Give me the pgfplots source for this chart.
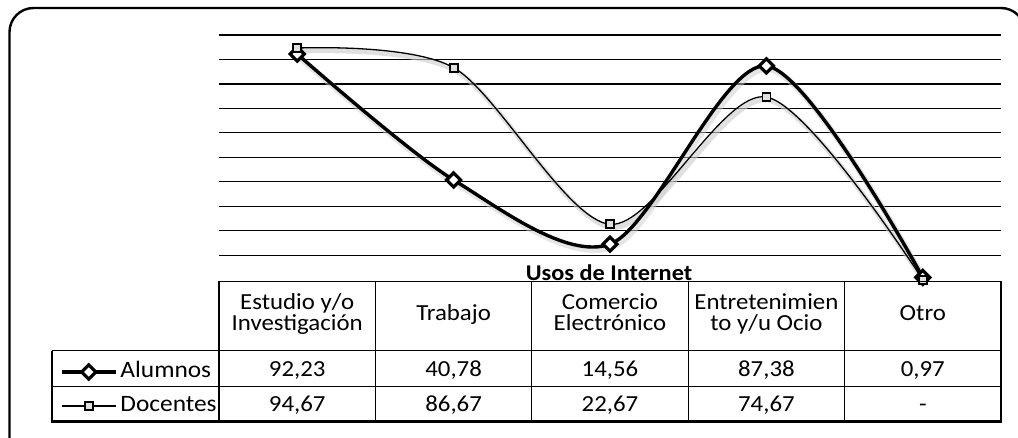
\documentclass[border=0pt]{standalone}
\usepackage{pgfplots}
\pgfplotsset{compat=1.18}
\usepackage{fontspec}
\setmainfont{Carlito}[FakeStretch=1.08]
\newcommand{\tf}{\fontsize{23}{20}\selectfont}
\begin{document}
\begin{tikzpicture}
\begin{scope}[x=1pt,y=1pt]
\useasboundingbox (0,0) rectangle (1018,-438);
\begin{scope}
\clip (0,0) rectangle (1018,-438);
\draw[line width=2.4pt, rounded corners=24pt] (9.5,-470) -- (9.5,-8) -- (1025,-8) -- (1025,-470);
\end{scope}
\end{scope}
\begin{axis}[
  at={(219pt,-279.8pt)}, anchor=south west,
  scale only axis, width=782pt, height=244.8pt,
  xmin=-0.5, xmax=4.5, ymin=0, ymax=100,
  axis line style={draw=none},
  xtick=\empty, ytick={10,20,...,100}, yticklabels={},
  major tick length=0pt,
  ymajorgrids, major grid style={black, line width=1.1pt},
  clip=false,
  legend style={at={(axis description cs:-0.2033,-0.3317)}, anchor=north west,
    draw=none, fill=none, inner sep=0pt, outer sep=0pt, row sep=12pt,
    nodes={inner sep=0pt, text height=16pt, text depth=6pt, font=\fontsize{23.5}{20}\selectfont},
    /tikz/every odd column/.append style={column sep=3pt}},
  legend cell align=left,
  legend image code/.code={\draw[mark repeat=2, mark phase=2, #1] plot coordinates {(0pt,0pt)(27pt,0pt)(54pt,0pt)};},
]
% soft shadows
\addplot[black!20, line width=5pt, smooth, tension=0.5, no markers, forget plot, xshift=2pt, yshift=-3pt, opacity=0.6]
  coordinates {(0,94.67)(1,86.67)(2,22.67)(3,74.67)(4,0)};
\addplot[black!20, line width=6pt, smooth, tension=0.5, no markers, forget plot, xshift=2pt, yshift=-3pt, opacity=0.5]
  coordinates {(0,92.23)(1,40.78)(2,14.56)(3,87.38)(4,0.97)};
\addplot[black, line width=3.4pt, smooth, tension=0.5, mark=square*, mark size=5pt,
  mark options={rotate=45, fill=white, solid, line width=3.2pt}]
  coordinates {(0,92.23)(1,40.78)(2,14.56)(3,87.38)(4,0.97)};
\addlegendentry{Alumnos}
\addplot[black, line width=1.3pt, smooth, tension=0.5, mark=square*, mark size=4pt,
  mark options={fill=black!12, solid, line width=1.8pt}]
  coordinates {(0,94.67)(1,86.67)(2,22.67)(3,74.67)(4,0)};
\addlegendentry{Docentes}
\end{axis}
\begin{scope}[x=1pt,y=1pt]
% table lines
\draw[line width=1.3pt] (52,-350.7) -- (1001,-350.7);
\draw[line width=1.3pt] (52,-386.3) -- (1001,-386.3);
\draw[line width=2.8pt] (51,-421.7) -- (1002,-421.7);
\draw[line width=2pt] (52,-350.7) -- (52,-421.7);
\foreach \x in {219,375.4,531.8,688.2,844.6} {\draw[line width=1.3pt] (\x,-281.5) -- (\x,-421.7);}
\draw[line width=2.5pt] (1001,-281.5) -- (1001,-421.7);
\draw[line width=1.8pt] (219,-281.5) -- (1001,-281.5);
% title
\node[anchor=base, font=\fontsize{22.5}{20}\selectfont\bfseries, inner sep=0pt] at (609,-280.5) {Usos de Internet};
% header
\begin{scope}[every node/.style={anchor=base, font=\tf, inner sep=0pt}]
\node at (297.2,-309.5) {Estudio y/o};
\node at (297.2,-330.5) {Investigación};
\node at (453.6,-321) {Trabajo};
\node at (610,-309.5) {Comercio};
\node at (610,-330.5) {Electrónico};
\node at (766.4,-309.5) {Entretenimien};
\node at (766.4,-330.5) {to y/u Ocio};
\node at (922.8,-321) {Otro};
\node at (297.2,-377) {92,23};
\node at (453.6,-377) {40,78};
\node at (610,-377) {14,56};
\node at (766.4,-377) {87,38};
\node at (922.8,-377) {0,97};
\node at (297.2,-411) {94,67};
\node at (453.6,-411) {86,67};
\node at (610,-411) {22,67};
\node at (766.4,-411) {74,67};
\node at (922.8,-411) {-};
\end{scope}
\end{scope}
\end{tikzpicture}
\end{document}
